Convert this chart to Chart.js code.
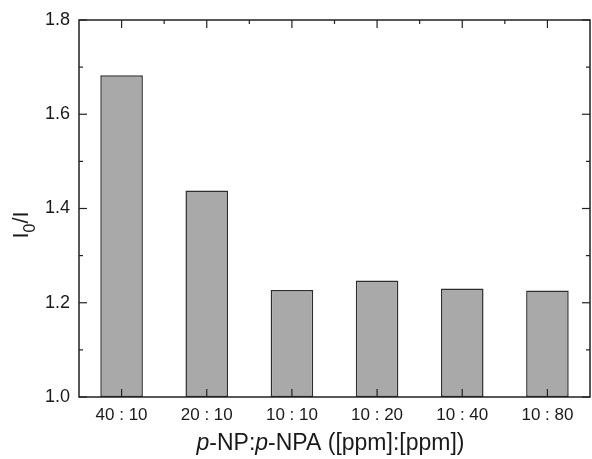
<!DOCTYPE html>
<html>
<head>
<meta charset="utf-8">
<script src="https://cdn.jsdelivr.net/npm/chart.js@4/dist/chart.umd.min.js"></script>
<style>
html,body{margin:0;padding:0;background:#fff}
#wrap{width:592px;height:459px;position:relative}
</style>
</head>
<body>
<div id="wrap"><canvas id="c"></canvas></div>
<script>
const ratios=['40 : 10','20 : 10','10 : 10','10 : 20','10 : 40','10 : 80'];
const ratioI0I=[1.683,1.438,1.227,1.247,1.230,1.226];
const yTicks=[1.0,1.2,1.4,1.6,1.8];
const yMinor=[1.1,1.3,1.5,1.7];

const INK='#1a1a1a';
const FONT="'Liberation Sans',Arial,sans-serif";

// frame, inward ticks and the two axis titles
const framePlugin={
  id:'frame',
  afterDraw(chart){
    const {ctx,chartArea:a,scales:{x,y}}=chart;
    ctx.save();
    ctx.strokeStyle='#222';ctx.lineWidth=1.5;
    ctx.strokeRect(a.left,a.top,a.right-a.left,a.bottom-a.top);
    ctx.lineWidth=1.2;
    const tick=(x1,y1,x2,y2)=>{ctx.beginPath();ctx.moveTo(x1,y1);ctx.lineTo(x2,y2);ctx.stroke();};
    yTicks.forEach(v=>{const p=y.getPixelForValue(v);tick(a.left,p,a.left+8,p);tick(a.right,p,a.right-8,p);});
    yMinor.forEach(v=>{const p=y.getPixelForValue(v);tick(a.left,p,a.left+4,p);tick(a.right,p,a.right-4,p);});
    ratios.forEach((r,i)=>{
      const p=x.getPixelForValue(i);
      tick(p,a.bottom,p,a.bottom-8);tick(p,a.top,p,a.top+8);
      if(i<ratios.length-1){const q=(p+x.getPixelForValue(i+1))/2;tick(q,a.top,q,a.top+4);}
    });
    // x title with italic p
    ctx.fillStyle=INK;ctx.textBaseline='alphabetic';
    const parts=[['italic','p'],['normal','-NP:'],['italic','p'],['normal','-NPA ([ppm]:[ppm])']];
    let w=0;
    parts.forEach(([s,t])=>{ctx.font=`${s} 23px ${FONT}`;w+=ctx.measureText(t).width;});
    let cx=(a.left+a.right)/2-w/2-4;
    parts.forEach(([s,t])=>{ctx.font=`${s} 23px ${FONT}`;ctx.textAlign='left';ctx.fillText(t,cx,450);cx+=ctx.measureText(t).width;});
    // y title I0/I rotated
    ctx.translate(28,225);ctx.rotate(-Math.PI/2);
    ctx.font=`22px ${FONT}`;
    const w1=ctx.measureText('I').width;
    ctx.font=`16px ${FONT}`;const w0=ctx.measureText('0').width;
    ctx.font=`22px ${FONT}`;const w2=ctx.measureText('/I').width;
    let sx=-(w1+w0+w2)/2;
    ctx.fillText('I',sx,0);sx+=w1;
    ctx.font=`16px ${FONT}`;ctx.fillText('0',sx,7);sx+=w0;
    ctx.font=`22px ${FONT}`;ctx.fillText('/I',sx,0);
    ctx.restore();
  }
};

new Chart(document.getElementById('c'),{
  type:'bar',
  data:{labels:ratios,datasets:[{
    data:ratioI0I,base:1.0,
    backgroundColor:'#a9a9a9',borderColor:'#2e2e2e',borderWidth:1.5,borderSkipped:false,
    barPercentage:0.5,categoryPercentage:1
  }]},
  options:{
    responsive:true,maintainAspectRatio:false,animation:false,
    layout:{padding:{left:0,right:2,top:20,bottom:0}},
    plugins:{legend:{display:false},tooltip:{enabled:false}},
    scales:{
      x:{
        grid:{display:false,drawTicks:false},border:{display:false},
        ticks:{color:INK,font:{family:FONT,size:17},padding:8},
        afterFit:s=>{s.height=62;}
      },
      y:{
        min:1.0,max:1.8,
        grid:{display:false,drawTicks:false},border:{display:false},
        afterBuildTicks:s=>{s.ticks=yTicks.map(v=>({value:v}));},
        ticks:{color:INK,font:{family:FONT,size:18},padding:9,callback:v=>v.toFixed(1)},
        afterFit:s=>{s.width=79;}
      }
    }
  },
  plugins:[framePlugin]
});
</script>
</body>
</html>
